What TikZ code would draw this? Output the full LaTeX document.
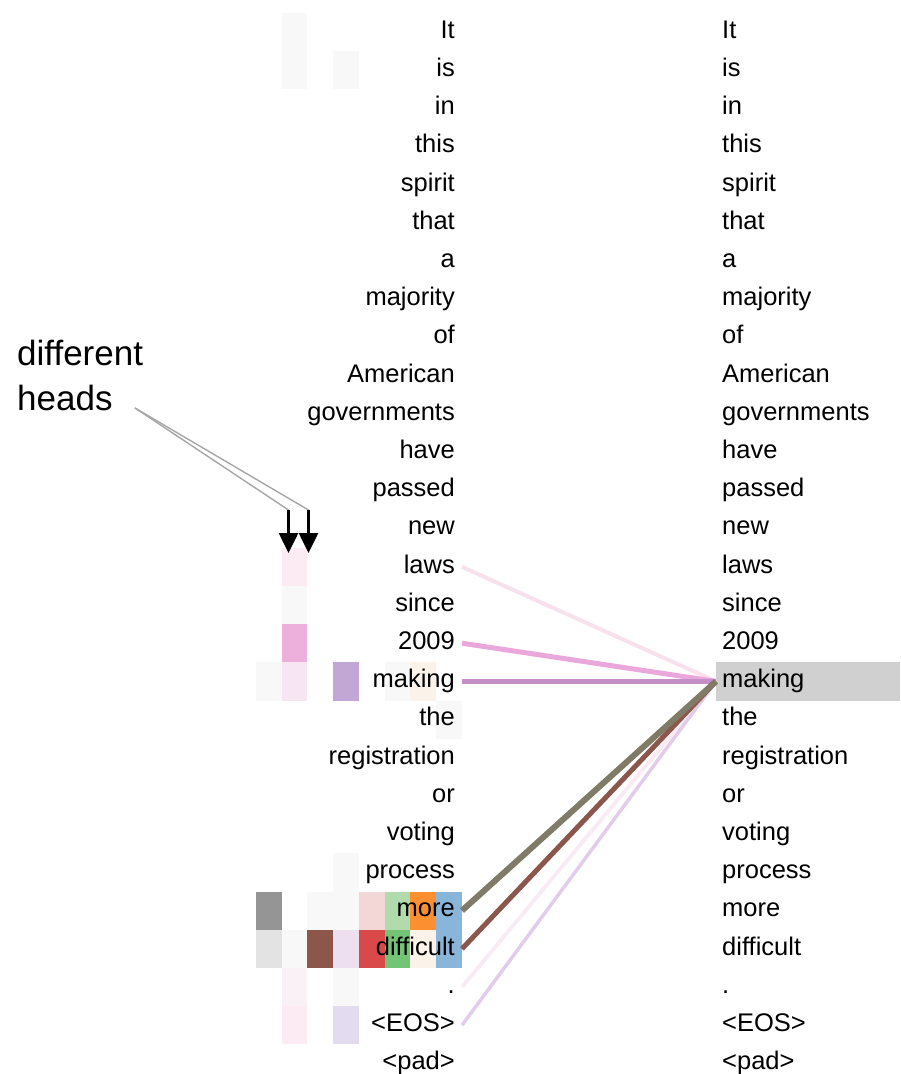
\documentclass[tikz,border=0pt]{standalone}
\usepackage{fontspec}
\setmainfont{Liberation Sans}
\usepackage{xcolor}
\usetikzlibrary{positioning,calc,arrows.meta}

\definecolor{attGreyLine}{HTML}{A6A6A6}
\definecolor{attHilite}{HTML}{D0D0D0}
%% cell colours (one hue per head, faded by weight)
\definecolor{cellFaint}{HTML}{F8F8F8}
\definecolor{cellBlush}{HTML}{FAF1F7}
\definecolor{cellPinkA}{HTML}{FCEBF2}
\definecolor{cellPinkB}{HTML}{F7E5F2}
\definecolor{cellPink}{HTML}{EDB0DD}
\definecolor{cellPurple}{HTML}{C1A6D6}
\definecolor{cellPeach}{HTML}{FBF3EA}
\definecolor{cellGrey}{HTML}{959595}
\definecolor{cellSilver}{HTML}{E3E3E3}
\definecolor{cellRose}{HTML}{F3D6D6}
\definecolor{cellMint}{HTML}{B2DBAD}
\definecolor{cellOrange}{HTML}{FC9031}
\definecolor{cellSky}{HTML}{88B5D9}
\definecolor{cellBrown}{HTML}{8C564B}
\definecolor{cellLilac}{HTML}{EDDEF0}
\definecolor{cellRed}{HTML}{DA4949}
\definecolor{cellGreen}{HTML}{74C476}
\definecolor{cellLav}{HTML}{E3DBEF}
%% line colours
\definecolor{lnLaws}{HTML}{F8E0EC}
\definecolor{lnYear}{HTML}{EAA7DB}
\definecolor{lnMaking}{HTML}{C58FCA}
\definecolor{lnMore}{HTML}{7F7B66}
\definecolor{lnDiff}{HTML}{8B574C}
\definecolor{lnDot}{HTML}{F9EBF3}
\definecolor{lnEos}{HTML}{E2CCE9}

\newcommand{\wordfont}{\fontsize{25.5}{30}\selectfont}
\tikzset{
  leftword/.style={anchor=east, inner xsep=7pt, inner ysep=0pt,
    text height=18pt, text depth=5.4pt, font=\wordfont},
  rightword/.style={anchor=west, inner xsep=6pt, inner ysep=7.4pt,
    text width=172pt, align=left, text height=18pt, text depth=5.4pt,
    font=\wordfont},
  headarrow/.style={-{Triangle[width=19pt,length=20pt]}, line width=2.6pt},
  pointer/.style={draw=attGreyLine, line width=1.4pt},
}

\begin{document}
\begin{tikzpicture}[x=1pt, y=-1pt, hl17/.style={fill=attHilite}]
\useasboundingbox (0,0) rectangle (900,1074);

%% attention cells: column / row / colour
\foreach \c/\r/\col in {%
  1/0/cellFaint, 1/1/cellFaint, 3/1/cellFaint,%
  1/14/cellPinkA, 1/15/cellFaint, 1/16/cellPink,%
  0/17/cellFaint, 1/17/cellPinkB, 3/17/cellPurple, 5/17/cellFaint, 6/17/cellPeach,%
  7/18/cellFaint, 3/22/cellFaint,%
  0/23/cellGrey, 2/23/cellFaint, 3/23/cellFaint, 4/23/cellRose,%
  5/23/cellMint, 6/23/cellOrange, 7/23/cellSky,%
  0/24/cellSilver, 1/24/cellFaint, 2/24/cellBrown, 3/24/cellLilac,%
  4/24/cellRed, 5/24/cellGreen, 6/24/cellPeach, 7/24/cellSky,%
  1/25/cellBlush, 3/25/cellFaint, 1/26/cellPinkA, 3/26/cellLav%
} {
  \fill[\col] ({256+\c*25.7}, {12.9+\r*38.2}) rectangle ++(25.7, 38.2);
}

%% token columns (left: attending, right: attended)
\foreach [count=\i from 0] \w in {It,is,in,this,spirit,that,a,majority,of,%
  American,governments,have,passed,new,laws,since,2009,making,the,%
  registration,or,voting,process,more,difficult,{.},<EOS>,<pad>} {
  \pgfmathsetmacro\ry{32 + \i*38.2}
  \node[leftword] (L\i) at (462, \ry) {\w};
  \node[rightword, hl\i/.try] (R\i) at (716, \ry) {\w};
}

%% attention from "making"
\foreach \src/\col/\lw in {14/lnLaws/4, 25/lnDot/4, 26/lnEos/3.5,%
  16/lnYear/5, 17/lnMaking/5, 24/lnDiff/5, 23/lnMore/6} {
  \draw[\col, line width=\lw pt] (L\src.east) -- (R17.west);
}

%% annotation
\node[align=left, anchor=north west, inner sep=0pt,
      font=\fontsize{35}{45}\selectfont] (heads) at (17, 340) {different\\heads};
\coordinate (headsEnd) at (135, 408);
\coordinate (topA) at (288.5, 510);
\coordinate (topB) at (308.5, 510);
\coordinate (tipA) at (288.5, 553);
\coordinate (tipB) at (308.5, 553);
\draw[pointer] (headsEnd) -- (topA);
\draw[pointer] (headsEnd) -- (topB);
\draw[headarrow] (topA) -- (tipA);
\draw[headarrow] (topB) -- (tipB);

\end{tikzpicture}
\end{document}
